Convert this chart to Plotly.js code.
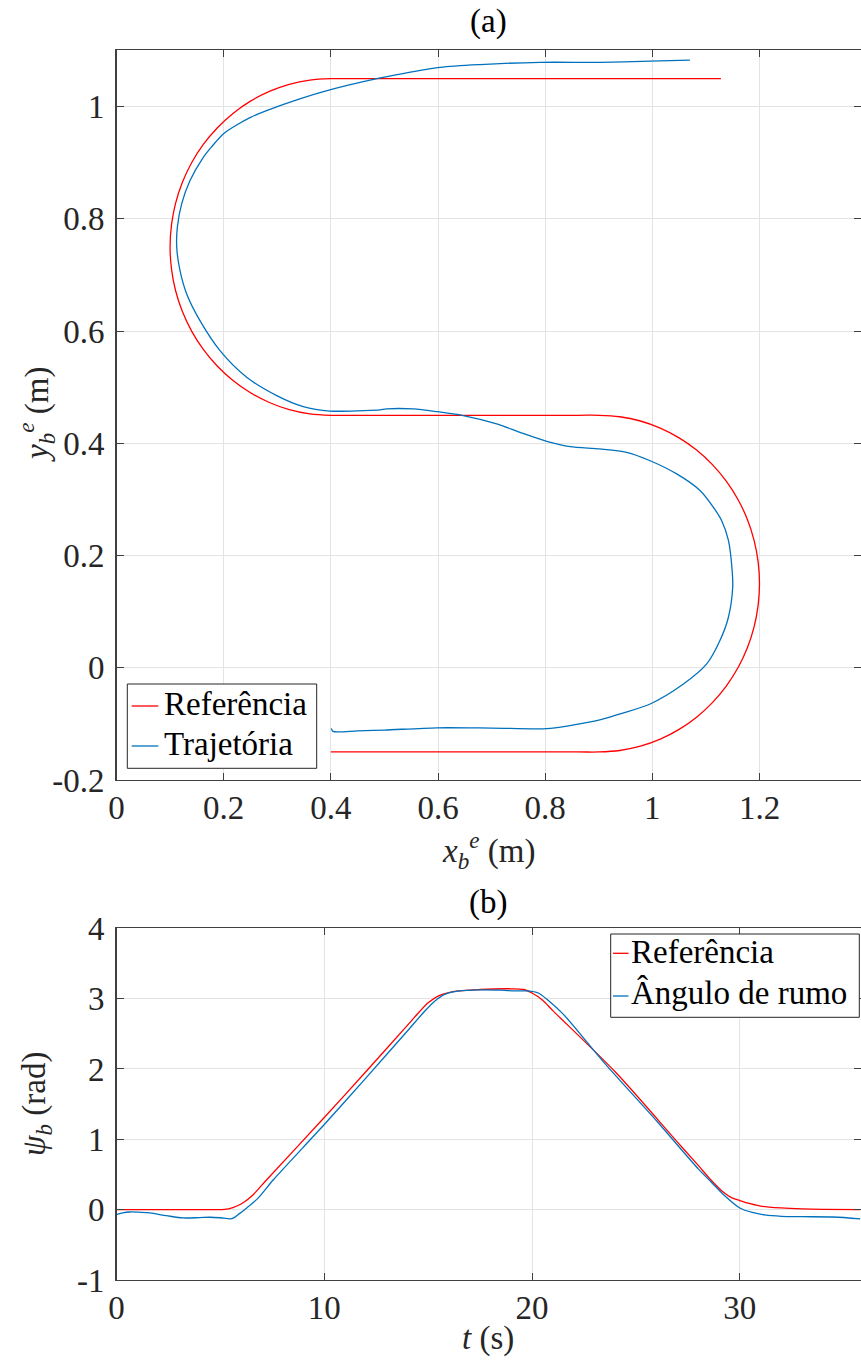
<!DOCTYPE html>
<html>
<head>
<meta charset="utf-8">
<script src="https://cdn.plot.ly/plotly-3.0.1.min.js"></script>
<style>html,body{margin:0;padding:0;background:#fff;}#chart{width:861px;height:1366px;}</style>
</head>
<body>
<div id="chart"></div>
<script>
// ---------- Data (a): trajectory in the plane ----------
const refX = [0.400, 0.8608, 0.900, 0.9392, 0.9777, 1.0148, 1.0500, 1.0826, 1.1121, 1.1380, 1.1598, 1.1772, 1.1898, 1.1974, 1.2000, 1.1974, 1.1898, 1.1772, 1.1598, 1.1380, 1.1121, 1.0826, 1.0500, 1.0148, 0.9777, 0.9392, 0.900, 0.8608,
              0.4392, 0.400, 0.3608, 0.3224, 0.2852, 0.2500, 0.2174, 0.1879, 0.1620, 0.1402, 0.1228, 0.1102, 0.1026, 0.1000, 0.1026, 0.1102, 0.1228, 0.1402, 0.1620, 0.1879, 0.2174, 0.2500, 0.2852, 0.3224, 0.3608, 0.400, 0.4392, 1.128];
const refY = [-0.150, -0.150, -0.150, -0.1474, -0.1398, -0.1272, -0.1098, -0.0880, -0.0621, -0.0326, 0.0000, 0.0352, 0.0724, 0.1108, 0.1500, 0.1892, 0.2276, 0.2648, 0.3000, 0.3326, 0.3621, 0.3880, 0.4098, 0.4272, 0.4398, 0.4474, 0.450, 0.450,
              0.450, 0.450, 0.4526, 0.4602, 0.4728, 0.4902, 0.5120, 0.5379, 0.5674, 0.6000, 0.6352, 0.6724, 0.7108, 0.7500, 0.7892, 0.8276, 0.8648, 0.9000, 0.9326, 0.9621, 0.9880, 1.0098, 1.0272, 1.0398, 1.0474, 1.050, 1.050, 1.050];

const trajX = [0.401, 0.404, 0.450, 0.500, 0.598, 0.700, 0.803, 0.846, 0.902, 0.940, 0.996, 1.058, 1.1015, 1.126, 1.142, 1.150, 1.149, 1.142, 1.1295, 1.114, 1.089, 1.0455, 0.996, 0.952, 0.902, 0.8464, 0.803, 0.753, 0.7096, 0.647, 0.5976, 0.554, 0.504, 0.4918, 0.4607, 0.398, 0.3486, 0.299, 0.243, 0.1932, 0.1558, 0.131, 0.1185, 0.1124, 0.1135, 0.1216, 0.1372, 0.162, 0.177, 0.1993, 0.222, 0.250, 0.280, 0.342, 0.398, 0.486, 0.529, 0.604, 0.678, 0.790, 0.903, 0.996, 1.070];
const trajY = [-0.108, -0.1133, -0.1125, -0.111, -0.107, -0.1075, -0.1086, -0.103, -0.093, -0.082, -0.0645, -0.029, 0.0068, 0.048, 0.090, 0.143, 0.173, 0.227, 0.262, 0.286, 0.316, 0.3455, 0.369, 0.384, 0.390, 0.394, 0.4036, 0.4196, 0.4346, 0.4494, 0.4565, 0.4613, 0.4613, 0.4595, 0.4583, 0.4575, 0.4654, 0.485, 0.5177, 0.5652, 0.6187, 0.6663, 0.7078, 0.7494, 0.785, 0.8267, 0.8683, 0.9098, 0.928, 0.9515, 0.966, 0.981, 0.993, 1.014, 1.030, 1.050, 1.058, 1.070, 1.075, 1.079, 1.079, 1.081, 1.083];

// ---------- Data (b): heading angle vs time ----------
const refT   = [0, 4.5, 5.2, 5.6, 6.0, 6.5, 7.23, 10, 12, 14, 14.6, 15.0, 15.5, 16.2, 17.5, 19.0, 19.6, 20.0, 20.5, 21.0, 24, 27, 28, 28.6, 29.2, 29.6, 30.0, 30.5, 31.0, 32.0, 33.0, 34.0, 35.81];
const refPsi = [0, 0, 0.003, 0.03, 0.08, 0.19, 0.425, 1.31, 1.96, 2.62, 2.82, 2.94, 3.04, 3.10, 3.13, 3.14, 3.13, 3.08, 2.98, 2.83, 1.96, 0.96, 0.63, 0.425, 0.25, 0.17, 0.13, 0.085, 0.05, 0.024, 0.01, 0.003, 0];

const headT   = [0, 0.3, 0.65, 1.2, 1.6, 2.4, 3.2, 4.0, 4.5, 5.0, 5.55, 5.9, 6.27, 6.8, 7.55, 10, 12, 14, 14.8, 15.3, 15.8, 16.5, 17.5, 18.5, 19.2, 19.8, 20.3, 20.8, 21.5, 23.5, 26, 28, 28.6, 29.3, 30.0, 30.6, 31.2, 32.0, 33.0, 34.5, 35.81];
const headPsi = [-0.07, -0.045, -0.033, -0.038, -0.047, -0.085, -0.118, -0.113, -0.108, -0.115, -0.128, -0.06, 0.024, 0.16, 0.425, 1.21, 1.87, 2.54, 2.81, 2.96, 3.06, 3.11, 3.125, 3.12, 3.11, 3.11, 3.08, 2.97, 2.78, 2.08, 1.26, 0.58, 0.40, 0.19, 0.024, -0.04, -0.075, -0.095, -0.10, -0.104, -0.13];

const ticksXa = [0, 0.2, 0.4, 0.6, 0.8, 1, 1.2];
const ticksXaText = ['0', '0.2', '0.4', '0.6', '0.8', '1', '1.2'];
const ticksYa = [-0.2, 0, 0.2, 0.4, 0.6, 0.8, 1];
const ticksYaText = ['-0.2', '0', '0.2', '0.4', '0.6', '0.8', '1'];
const ticksXb = [0, 10, 20, 30];
const ticksXbText = ['0', '10', '20', '30'];
const ticksYb = [-1, 0, 1, 2, 3, 4];
const ticksYbText = ['-1', '0', '1', '2', '3', '4'];

const legendA = ['Referência', 'Trajetória'];
const legendB = ['Referência', 'Ângulo de rumo'];

const RED = '#ff0000', BLUE = '#0072bd';
const FONT = "'Liberation Serif', 'DejaVu Serif', serif";
const TXT = '#262626';

const traces = [
  {x: refX, y: refY, xaxis: 'x', yaxis: 'y', mode: 'lines', name: legendA[0],
   line: {color: RED, width: 1.3, shape: 'spline', smoothing: 1}},
  {x: trajX, y: trajY, xaxis: 'x', yaxis: 'y', mode: 'lines', name: legendA[1],
   line: {color: BLUE, width: 1.3, shape: 'spline', smoothing: 0.8}},
  {x: refT, y: refPsi, xaxis: 'x2', yaxis: 'y2', mode: 'lines', name: legendB[0],
   line: {color: RED, width: 1.3, shape: 'spline', smoothing: 0.8}},
  {x: headT, y: headPsi, xaxis: 'x2', yaxis: 'y2', mode: 'lines', name: legendB[1],
   line: {color: BLUE, width: 1.3, shape: 'spline', smoothing: 0.8}}
];

function axis(extra) {
  return Object.assign({
    showline: true, linecolor: '#404040', linewidth: 1.3, mirror: 'ticks',
    ticks: 'inside', ticklen: 7, tickcolor: '#404040', tickwidth: 1,
    showgrid: true, gridcolor: '#e3e3e3', gridwidth: 1, zeroline: false,
    tickfont: {family: FONT, size: 33, color: TXT}, tickmode: 'array',
    fixedrange: true
  }, extra);
}

const W = 861, H = 1366;
const px = v => v / W, py = v => 1 - v / H;

function textAnn(text, x, y, opts) {
  return Object.assign({text: text, x: px(x), y: py(y), xref: 'paper', yref: 'paper', showarrow: false,
    xanchor: 'center', yanchor: 'middle', font: {family: FONT, size: 33, color: TXT}}, opts || {});
}

// manual legends (box, sample lines, labels)
const shapes = [
  {type: 'rect', xref: 'paper', yref: 'paper', x0: px(127.3), x1: px(316.7), y0: py(684), y1: py(768.3),
   fillcolor: '#ffffff', line: {color: '#262626', width: 1}, layer: 'above'},
  {type: 'line', xref: 'paper', yref: 'paper', x0: px(131.7), x1: px(158.3), y0: py(706), y1: py(706),
   line: {color: RED, width: 1.3}, layer: 'above'},
  {type: 'line', xref: 'paper', yref: 'paper', x0: px(131.7), x1: px(158.3), y0: py(746), y1: py(746),
   line: {color: BLUE, width: 1.3}, layer: 'above'},
  {type: 'rect', xref: 'paper', yref: 'paper', x0: px(610.7), x1: px(859.3), y0: py(934), y1: py(1017.3),
   fillcolor: '#ffffff', line: {color: '#262626', width: 1}, layer: 'above'},
  {type: 'line', xref: 'paper', yref: 'paper', x0: px(613), x1: px(628.5), y0: py(953.3), y1: py(953.3),
   line: {color: RED, width: 1.3}, layer: 'above'},
  {type: 'line', xref: 'paper', yref: 'paper', x0: px(613), x1: px(628.5), y0: py(996), y1: py(996),
   line: {color: BLUE, width: 1.3}, layer: 'above'}
];

const layout = {
  width: W, height: H,
  margin: {l: 0, r: 0, t: 0, b: 0},
  paper_bgcolor: '#ffffff', plot_bgcolor: '#ffffff',
  showlegend: false,
  xaxis: axis({domain: [px(116.5), px(860.5)], range: [0, 1.3885], tickvals: ticksXa, ticktext: ticksXaText, anchor: 'y', ticklabelstandoff: -2}),
  yaxis: axis({domain: [py(780), py(50)], range: [-0.2, 1.101], tickvals: ticksYa, ticktext: ticksYaText, anchor: 'x', ticklabelstandoff: 4}),
  xaxis2: axis({domain: [px(116.5), px(860.5)], range: [0, 35.81], tickvals: ticksXb, ticktext: ticksXbText, anchor: 'y2', ticklabelstandoff: -2}),
  yaxis2: axis({domain: [py(1280), py(928.3)], range: [-1, 4], tickvals: ticksYb, ticktext: ticksYbText, anchor: 'x2', ticklabelstandoff: 4}),
  shapes: shapes,
  annotations: [
    textAnn('(a)', 488, 21, {font: {family: FONT, size: 33, color: '#000'}}),
    textAnn('(b)', 488, 902, {font: {family: FONT, size: 33, color: '#000'}}),
    textAnn('<i>x</i><sub><i>b</i></sub><sup><i>e</i></sup> (m)', 488, 850),
    textAnn('<i>y</i><sub><i>b</i></sub><sup><i>e</i></sup> (m)', 36, 415, {textangle: -90}),
    textAnn('<i>t</i> (s)', 488, 1338),
    textAnn('<i>ψ</i><sub><i>b</i></sub> (rad)', 36, 1104, {textangle: -90}),
    textAnn(legendA[0], 161.7, 704, {xanchor: 'left', font: {family: FONT, size: 33, color: '#000'}}),
    textAnn(legendA[1], 161.7, 744, {xanchor: 'left', font: {family: FONT, size: 33, color: '#000'}}),
    textAnn(legendB[0], 628.5, 952, {xanchor: 'left', font: {family: FONT, size: 33, color: '#000'}}),
    textAnn(legendB[1], 628.5, 993, {xanchor: 'left', font: {family: FONT, size: 33, color: '#000'}})
  ]
};

Plotly.newPlot('chart', traces, layout, {displayModeBar: false, staticPlot: true});
</script>
</body>
</html>
